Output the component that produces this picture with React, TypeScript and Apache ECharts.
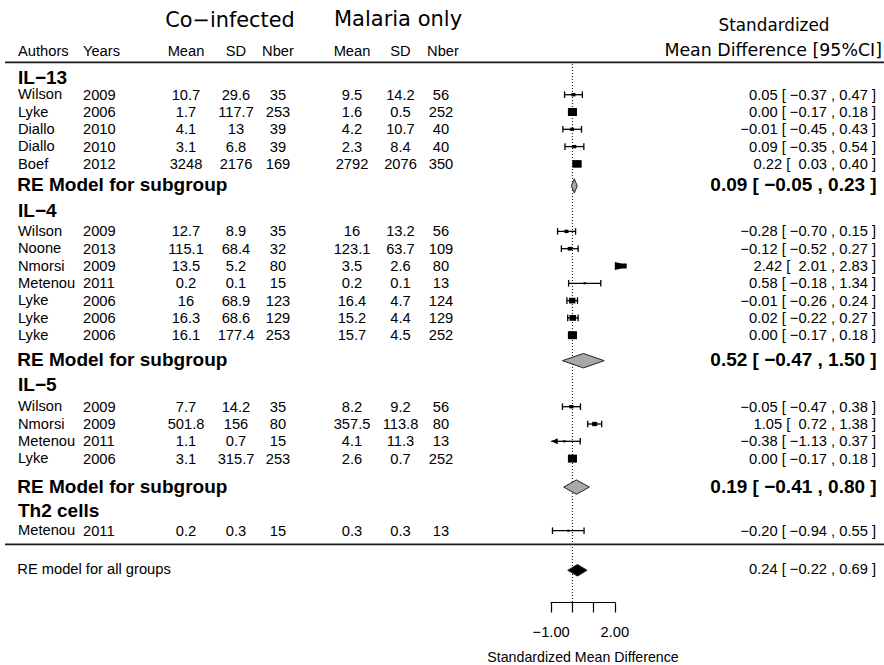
import React, { useEffect, useRef } from "react";
import * as echarts from "echarts";

// ---------------- data ----------------
const groupNames = ["IL−13", "IL−4", "IL−5", "Th2 cells"];
const studyGroup = [0, 0, 0, 0, 0, 1, 1, 1, 1, 1, 1, 1, 2, 2, 2, 2, 3];
const authors = ["Wilson", "Lyke", "Diallo", "Diallo", "Boef", "Wilson", "Noone", "Nmorsi", "Metenou", "Lyke", "Lyke", "Lyke", "Wilson", "Nmorsi", "Metenou", "Lyke", "Metenou"];
const years = [2009, 2006, 2010, 2010, 2012, 2009, 2013, 2009, 2011, 2006, 2006, 2006, 2009, 2009, 2011, 2006, 2011];
const coMean = [10.7, 1.7, 4.1, 3.1, 3248, 12.7, 115.1, 13.5, 0.2, 16, 16.3, 16.1, 7.7, 501.8, 1.1, 3.1, 0.2];
const coSD = [29.6, 117.7, 13, 6.8, 2176, 8.9, 68.4, 5.2, 0.1, 68.9, 68.6, 177.4, 14.2, 156, 0.7, 315.7, 0.3];
const coN = [35, 253, 39, 39, 169, 35, 32, 80, 15, 123, 129, 253, 35, 80, 15, 253, 15];
const malMean = [9.5, 1.6, 4.2, 2.3, 2792, 16, 123.1, 3.5, 0.2, 16.4, 15.2, 15.7, 8.2, 357.5, 4.1, 2.6, 0.3];
const malSD = [14.2, 0.5, 10.7, 8.4, 2076, 13.2, 63.7, 2.6, 0.1, 4.7, 4.4, 4.5, 9.2, 113.8, 11.3, 0.7, 0.3];
const malN = [56, 252, 40, 40, 350, 56, 109, 80, 13, 124, 129, 252, 56, 80, 13, 252, 13];
const smd = [0.05, 0.0, -0.01, 0.09, 0.22, -0.28, -0.12, 2.42, 0.58, -0.01, 0.02, 0.0, -0.05, 1.05, -0.38, 0.0, -0.2];
const ciLow = [-0.37, -0.17, -0.45, -0.35, 0.03, -0.7, -0.52, 2.01, -0.18, -0.26, -0.22, -0.17, -0.47, 0.72, -1.13, -0.17, -0.94];
const ciHigh = [0.47, 0.18, 0.43, 0.54, 0.4, 0.15, 0.27, 2.83, 1.34, 0.24, 0.27, 0.18, 0.38, 1.38, 0.37, 0.18, 0.55];
const subEst = [0.09, 0.52, 0.19];
const subLow = [-0.05, -0.47, -0.41];
const subHigh = [0.23, 1.5, 0.8];
const allEst = [0.24];
const allLow = [-0.22];
const allHigh = [0.69];
const axisTicks = [-1, 0, 1, 2];
const axisTickLabels = ["−1.00", "", "", "2.00"];

// ---------------- layout ----------------
const W = 884;
const H = 665;
const AX_LEFT = 551.2;
const AX_WIDTH = 63.6;
const AX_Y = 602.5;
const STEP = 17.3;
const FIRST_HEAD = 77.2;
const headToFirst = [17.5, 21, 22.5, 20.6];
const lastToRE = [22, 25.5, 28.5];
const reToHead = [24.5, 23.5, 23];

const headY: number[] = [];
const reY: number[] = [];
const studyY: number[] = [];
{
  let y = FIRST_HEAD;
  for (let g = 0; g < groupNames.length; g++) {
    headY[g] = y;
    y += headToFirst[g];
    let first = true;
    for (let i = 0; i < authors.length; i++) {
      if (studyGroup[i] !== g) continue;
      if (!first) y += STEP;
      studyY[i] = y;
      first = false;
    }
    if (g < subEst.length) {
      y += lastToRE[g];
      reY[g] = y;
      y += reToHead[g];
    }
  }
}
const lastStudyY = studyY[studyY.length - 1];
const bottomLineY = lastStudyY + 13.6;
const allY = bottomLineY + 26;

// marker sizes from study weights (1/SE of the SMD)
const weights = smd.map((d, i) => 1 / Math.sqrt(1 / coN[i] + 1 / malN[i] + (d * d) / (2 * (coN[i] + malN[i]))));
const wMin = Math.min(...weights);
const wMax = Math.max(...weights);

const ARIAL = "'Liberation Sans', Arial, Helvetica, sans-serif";
const DEJAVU = "'DejaVu Sans', 'Liberation Sans', sans-serif";

const f2 = (v: number) => (v < -0.0001 ? "−" : "") + Math.abs(v).toFixed(2);
const ciText = (e: number, l: number, h: number) =>
  `${f2(e)} [${l < 0 ? " " : "\u00a0\u00a0"}${f2(l)} , ${f2(h)} ]`;

type T = { x: number; y: number; text: string; align: string; size: number; bold?: boolean; family?: string };
const texts: T[] = [];
// headers
texts.push({ x: 230, y: 19.5, text: "Co−infected", align: "center", size: 20.8, family: DEJAVU });
texts.push({ x: 398, y: 19, text: "Malaria only", align: "center", size: 21, family: DEJAVU });
texts.push({ x: 774, y: 25.3, text: "Standardized", align: "center", size: 16.8, family: DEJAVU });
texts.push({ x: 882, y: 50, text: "Mean Difference [95%CI]", align: "right", size: 17.4, family: DEJAVU });
const COLS = { author: 18, year: 83, coMean: 186, coSD: 236, coN: 278, malMean: 352, malSD: 400.5, malN: 441, ci: 876 };
const HR = 50.5;
const BODY = 14.7;
const BOLD = 19;
texts.push({ x: COLS.author, y: HR, text: "Authors", align: "left", size: BODY });
texts.push({ x: COLS.year, y: HR, text: "Years", align: "left", size: BODY });
texts.push({ x: COLS.coMean, y: HR, text: "Mean", align: "center", size: BODY });
texts.push({ x: COLS.coSD, y: HR, text: "SD", align: "center", size: BODY });
texts.push({ x: COLS.coN, y: HR, text: "Nber", align: "center", size: BODY });
texts.push({ x: COLS.malMean, y: HR, text: "Mean", align: "center", size: BODY });
texts.push({ x: COLS.malSD, y: HR, text: "SD", align: "center", size: BODY });
texts.push({ x: COLS.malN + 2, y: HR, text: "Nber", align: "center", size: BODY });
for (let g = 0; g < groupNames.length; g++) {
  texts.push({ x: 18, y: headY[g], text: groupNames[g], align: "left", size: BOLD, bold: true });
  if (g < subEst.length) {
    texts.push({ x: 17.3, y: reY[g] - 1, text: "RE Model for subgroup", align: "left", size: BOLD, bold: true });
    texts.push({ x: COLS.ci + 0.7, y: reY[g] - 1, text: ciText(subEst[g], subLow[g], subHigh[g]), align: "right", size: BOLD, bold: true });
  }
}
for (let i = 0; i < authors.length; i++) {
  const y = studyY[i];
  texts.push({ x: COLS.author, y: y - 0.4, text: authors[i], align: "left", size: BODY });
  texts.push({ x: COLS.year, y, text: String(years[i]), align: "left", size: BODY });
  texts.push({ x: COLS.coMean, y, text: String(coMean[i]), align: "center", size: BODY });
  texts.push({ x: COLS.coSD, y, text: String(coSD[i]), align: "center", size: BODY });
  texts.push({ x: COLS.coN, y, text: String(coN[i]), align: "center", size: BODY });
  texts.push({ x: COLS.malMean, y, text: String(malMean[i]), align: "center", size: BODY });
  texts.push({ x: COLS.malSD, y, text: String(malSD[i]), align: "center", size: BODY });
  texts.push({ x: COLS.malN, y, text: String(malN[i]), align: "center", size: BODY });
  texts.push({ x: COLS.ci, y, text: ciText(smd[i], ciLow[i], ciHigh[i]), align: "right", size: BODY });
}
texts.push({ x: 17.3, y: allY - 1.8, text: "RE model for all groups", align: "left", size: BODY });
texts.push({ x: COLS.ci, y: allY - 1, text: ciText(allEst[0], allLow[0], allHigh[0]), align: "right", size: BODY });
texts.push({ x: AX_LEFT + AX_WIDTH / 2, y: 656.5, text: "Standardized Mean Difference", align: "center", size: 14.2 });

export default function App() {
  const ref = useRef<HTMLDivElement>(null);
  useEffect(() => {
    if (!ref.current) return;
    const chart = echarts.init(ref.current, null, { renderer: "svg" });
    const LO = axisTicks[0];
    const HI = axisTicks[axisTicks.length - 1];

    const option: any = {
      animation: false,
      backgroundColor: "#ffffff",
      grid: [
        { left: 0, top: 0, width: W, height: H },
        { left: AX_LEFT, top: 0, width: AX_WIDTH, height: AX_Y },
      ],
      xAxis: [
        { type: "value", gridIndex: 0, min: 0, max: W, show: false },
        {
          type: "value",
          gridIndex: 1,
          min: LO,
          max: HI,
          interval: 1,
          axisLine: { show: true, onZero: false, lineStyle: { color: "#000", width: 1.2 } },
          axisTick: { show: true, length: 10, inside: false, lineStyle: { color: "#000", width: 1.2 } },
          axisLabel: {
            show: true,
            margin: 21.5,
            color: "#000",
            fontSize: BODY,
            fontFamily: ARIAL,
            formatter: (v: number) => {
              const k = axisTicks.findIndex((t) => Math.abs(t - v) < 1e-9);
              return k >= 0 ? axisTickLabels[k] : "";
            },
          },
          splitLine: { show: false },
        },
      ],
      yAxis: [
        { type: "value", gridIndex: 0, min: 0, max: H, inverse: true, show: false },
        { type: "value", gridIndex: 1, min: 0, max: AX_Y, inverse: true, show: false },
      ],
      series: [
        // separator lines
        {
          type: "custom",
          xAxisIndex: 0,
          yAxisIndex: 0,
          data: [[62.3], [bottomLineY]],
          renderItem: (params: any, api: any) => {
            const y = api.value(0);
            const a = api.coord([5, y]);
            const b = api.coord([W, y]);
            return {
              type: "line",
              shape: { x1: a[0], y1: a[1], x2: b[0], y2: b[1] },
              style: { stroke: "#1a1a1a", lineWidth: 1.8 },
            };
          },
        },
        // dotted reference line at 0
        {
          type: "custom",
          xAxisIndex: 1,
          yAxisIndex: 1,
          data: [[0, 64, AX_Y]],
          renderItem: (params: any, api: any) => {
            const a = api.coord([api.value(0), api.value(1)]);
            const b = api.coord([api.value(0), api.value(2)]);
            return {
              type: "line",
              shape: { x1: a[0], y1: a[1], x2: b[0], y2: b[1] },
              style: { stroke: "#000", lineWidth: 1, lineDash: [1, 2] },
            };
          },
        },
        // study CIs and squares
        {
          type: "custom",
          xAxisIndex: 1,
          yAxisIndex: 1,
          data: smd.map((d, i) => [d, ciLow[i], ciHigh[i], studyY[i], (weights[i] - wMin) / (wMax - wMin)]),
          renderItem: (params: any, api: any) => {
            const est = api.value(0);
            const lo = api.value(1);
            const hi = api.value(2);
            const y = api.value(3);
            const t = api.value(4);
            const X = (v: number) => api.coord([v, y])[0];
            const py = api.coord([0, y])[1];
            const children: any[] = [];
            const ln = { stroke: "#000", lineWidth: 1.3 };
            const cap = 3.3;
            let w = 2.5 + 6.5 * t;
            let h = 2 + 6 * t;
            if (lo >= HI) {
              const x0 = X(HI);
              children.push({ type: "polygon", shape: { points: [[x0, py - 4], [x0 + 6.5, py - 2.5], [x0 + 6.5, py + 2.5], [x0, py + 4]] }, style: { fill: "#000" } });
              w = Math.max(w, 6);
              h = Math.max(h, 5);
            } else if (hi <= LO) {
              const x0 = X(LO);
              children.push({ type: "polygon", shape: { points: [[x0, py - 4], [x0 - 6.5, py - 2.5], [x0 - 6.5, py + 2.5], [x0, py + 4]] }, style: { fill: "#000" } });
              w = Math.max(w, 6);
              h = Math.max(h, 5);
            } else {
              const a = Math.max(lo, LO);
              const b = Math.min(hi, HI);
              children.push({ type: "line", shape: { x1: X(a), y1: py, x2: X(b), y2: py }, style: ln });
              if (lo < LO) {
                const xl = X(LO);
                children.push({ type: "polygon", shape: { points: [[xl, py], [xl + 6.5, py - 3], [xl + 6.5, py + 3]] }, style: { fill: "#000" } });
              } else {
                children.push({ type: "line", shape: { x1: X(lo), y1: py - cap, x2: X(lo), y2: py + cap }, style: ln });
              }
              if (hi > HI) {
                const xr = X(HI);
                children.push({ type: "polygon", shape: { points: [[xr, py], [xr - 6.5, py - 3], [xr - 6.5, py + 3]] }, style: { fill: "#000" } });
              } else {
                children.push({ type: "line", shape: { x1: X(hi), y1: py - cap, x2: X(hi), y2: py + cap }, style: ln });
              }
            }
            children.push({ type: "rect", shape: { x: X(est) - w / 2, y: py - h / 2, width: w, height: h }, style: { fill: "#000" } });
            return { type: "group", children };
          },
        },
        // diamonds (subgroups and overall)
        {
          type: "custom",
          xAxisIndex: 1,
          yAxisIndex: 1,
          data: [
            ...subEst.map((e, g) => [e, subLow[g], subHigh[g], reY[g], 0]),
            [allEst[0], allLow[0], allHigh[0], allY, 1],
          ],
          renderItem: (params: any, api: any) => {
            const est = api.value(0);
            const lo = api.value(1);
            const hi = api.value(2);
            const y = api.value(3);
            const overall = api.value(4) === 1;
            const X = (v: number) => api.coord([v, y])[0];
            const py = api.coord([0, y])[1];
            const hh = overall ? 5.8 : 7.2;
            return {
              type: "polygon",
              shape: { points: [[X(lo), py], [X(est), py - hh], [X(hi), py], [X(est), py + hh]] },
              style: { fill: overall ? "#000" : "#a8a8a8", stroke: "#222", lineWidth: 1 },
            };
          },
        },
        // all texts
        {
          type: "custom",
          xAxisIndex: 0,
          yAxisIndex: 0,
          data: texts.map((t, i) => [t.x, t.y, i]),
          renderItem: (params: any, api: any) => {
            const t = texts[params.dataIndex];
            const p = api.coord([api.value(0), api.value(1)]);
            return {
              type: "text",
              x: p[0],
              y: p[1],
              style: {
                text: t.text,
                fill: "#000",
                fontSize: t.size,
                fontFamily: t.family || ARIAL,
                fontWeight: t.bold ? "bold" : "normal",
                align: t.align,
                textAlign: t.align,
                verticalAlign: "middle",
                textVerticalAlign: "middle",
              },
            };
          },
        },
      ],
    };
    chart.setOption(option);
    return () => chart.dispose();
  }, []);
  return <div ref={ref} style={{ position: "absolute", left: 0, top: 0, width: W, height: H }} />;
}
